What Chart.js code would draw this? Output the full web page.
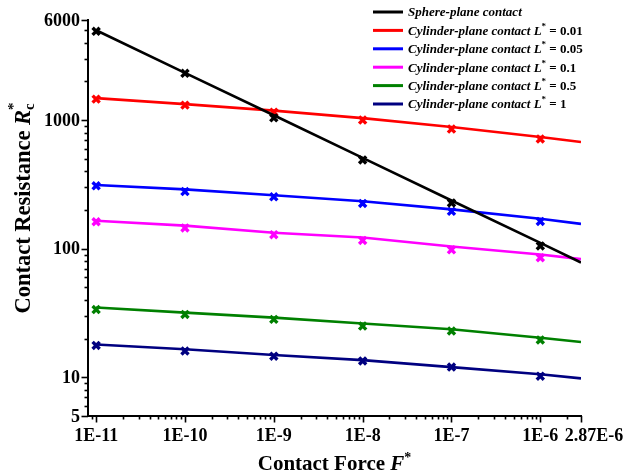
<!DOCTYPE html>
<html>
<head>
<meta charset="utf-8">
<script src="https://cdn.jsdelivr.net/npm/chart.js@4.4.1/dist/chart.umd.min.js"></script>
<style>
  html, body { margin: 0; padding: 0; background: #ffffff; }
  canvas { display: block; }
</style>
</head>
<body>
<canvas id="chart" width="625" height="476"></canvas>
<script>
// Dimensionless contact force at which each case was evaluated
const forceSamples = [1e-11, 1e-10, 1e-9, 1e-8, 1e-7, 1e-6];
// Force values where the fitted curves are traced (up to the axis end)
const fitForces = [1e-11, 1e-10, 1e-9, 1e-8, 1e-7, 1e-6, 2.87e-6];

// Axis ticks
const xTickValues = [1e-11, 1e-10, 1e-9, 1e-8, 1e-7, 1e-6, 2.87e-6];
const xTickLabels = ['1E-11', '1E-10', '1E-9', '1E-8', '1E-7', '1E-6', '2.87E-6'];
const yTickValues = [5, 10, 100, 1000, 6000];
const yTickLabels = ['5', '10', '100', '1000', '6000'];

// Series names and colours
const seriesNames = [
  'Sphere-plane contact',
  'Cylinder-plane contact L* = 0.01',
  'Cylinder-plane contact L* = 0.05',
  'Cylinder-plane contact L* = 0.1',
  'Cylinder-plane contact L* = 0.5',
  'Cylinder-plane contact L* = 1'
];
const seriesColors = ['#000000', '#ff0000', '#0000ff', '#ff00ff', '#008000', '#000080'];

// Computed contact resistance (markers)
const sphereMarks  = [4900, 2310, 1040, 490, 227, 105];
const cyl001Marks  = [1455, 1307, 1153, 1000, 851, 713];
const cyl005Marks  = [308, 278, 253, 225, 195, 163];
const cyl01Marks   = [162, 145, 128.5, 116, 98, 85];
const cyl05Marks   = [33.6, 30.8, 28.2, 25.0, 22.9, 19.5];
const cyl1Marks    = [17.7, 16.0, 14.6, 13.4, 12.0, 10.2];

// Fitted curves (lines)
const sphereFit  = [4990, 2330, 1090, 508, 237, 111, 78];
const cyl001Fit  = [1481, 1331, 1185, 1036, 883, 738, 675];
const cyl005Fit  = [313, 289, 260, 234, 202, 171, 156];
const cyl01Fit   = [165, 151, 133, 122, 104, 90, 83];
const cyl05Fit   = [34.9, 31.8, 29.1, 26.2, 23.6, 20.3, 18.8];
const cyl1Fit    = [18.0, 16.5, 14.9, 13.6, 12.0, 10.55, 9.8];

const markSets = [sphereMarks, cyl001Marks, cyl005Marks, cyl01Marks, cyl05Marks, cyl1Marks];
const fitSets  = [sphereFit, cyl001Fit, cyl005Fit, cyl01Fit, cyl05Fit, cyl1Fit];

const X_MIN = 8.1e-12, X_MAX = 2.87e-6, Y_MIN = 5, Y_MAX = 6000;
const SERIF = '"Liberation Serif", "Times New Roman", serif';

const pairs = (xs, ys) => ys.map((y, i) => ({ x: xs[i], y }));

const datasets = [];
seriesNames.forEach((name, i) => {
  datasets.push({
    label: name,
    data: pairs(fitForces, fitSets[i]),
    showLine: true,
    borderColor: seriesColors[i],
    backgroundColor: seriesColors[i],
    borderWidth: 2.6,
    pointRadius: 0,
    tension: 0
  });
  datasets.push({
    label: name + ' (computed)',
    data: pairs(forceSamples, markSets[i]),
    showLine: false,
    borderColor: seriesColors[i],
    backgroundColor: seriesColors[i],
    pointStyle: 'crossRot',
    pointRadius: 5,
    pointBorderWidth: 3.4,
    pointHoverRadius: 5
  });
});

// Minor log ticks (2..9 × each decade) strictly inside a range
function minorTicks(lo, hi) {
  const out = [];
  for (let e = Math.floor(Math.log10(lo)); e <= Math.ceil(Math.log10(hi)); e++) {
    for (let m = 2; m <= 9; m++) {
      const v = m * Math.pow(10, e);
      if (v > lo * 1.0001 && v < hi * 0.9999) out.push(v);
    }
  }
  return out;
}

// Draws text made of styled runs; each run: {t, font, dy, stack}
function drawRuns(ctx, x, y, runs) {
  let cx = x, lastW = 0;
  runs.forEach(r => {
    ctx.font = r.font;
    const w = ctx.measureText(r.t).width;
    const px = r.stack ? cx - lastW : cx;
    ctx.fillText(r.t, px, y + (r.dy || 0));
    if (r.stack) {
      cx = Math.max(cx, px + w);
    } else {
      cx += w;
      lastW = w;
    }
  });
  return cx - x;
}
function measureRuns(ctx, runs) {
  let total = 0, lastW = 0;
  runs.forEach(r => {
    ctx.font = r.font;
    const w = ctx.measureText(r.t).width;
    if (r.stack) { total = Math.max(total, total - lastW + w); }
    else { total += w; lastW = w; }
  });
  return total;
}

const axisDecor = {
  id: 'axisDecor',
  afterDraw(chart) {
    const ctx = chart.ctx;
    const xs = chart.scales.x, ys = chart.scales.y, a = chart.chartArea;
    ctx.save();
    ctx.strokeStyle = '#000';
    ctx.fillStyle = '#000';
    ctx.lineWidth = 1.6;

    // x ticks (outward)
    const xTick = (v, len) => {
      const p = Math.round(xs.getPixelForValue(v)) + 0.5;
      ctx.beginPath(); ctx.moveTo(p, a.bottom); ctx.lineTo(p, a.bottom + len); ctx.stroke();
    };
    minorTicks(X_MIN, X_MAX).forEach(v => xTick(v, 3.5));
    xTickValues.forEach(v => xTick(v, 6.5));

    // y ticks (outward)
    const yTick = (v, len) => {
      const p = Math.round(ys.getPixelForValue(v)) + 0.5;
      ctx.beginPath(); ctx.moveTo(a.left, p); ctx.lineTo(a.left - len, p); ctx.stroke();
    };
    minorTicks(Y_MIN, Y_MAX).forEach(v => yTick(v, 3.5));
    yTickValues.forEach(v => yTick(v, 6.5));

    // tick labels
    ctx.font = 'bold 18px ' + SERIF;
    ctx.textAlign = 'center';
    ctx.textBaseline = 'top';
    xTickValues.forEach((v, i) => {
      let px = xs.getPixelForValue(v);
      if (v === X_MAX) px += 13;
      ctx.fillText(xTickLabels[i], px, a.bottom + 11);
    });
    ctx.textAlign = 'right';
    ctx.textBaseline = 'middle';
    yTickValues.forEach((v, i) => {
      ctx.fillText(yTickLabels[i], a.left - 8, ys.getPixelForValue(v) + 1);
    });

    // x axis title
    ctx.textAlign = 'left';
    ctx.textBaseline = 'alphabetic';
    const xTitle = [
      { t: 'Contact Force ', font: 'bold 21px ' + SERIF },
      { t: 'F', font: 'bold italic 21px ' + SERIF },
      { t: '*', font: 'bold 14px ' + SERIF, dy: -8 }
    ];
    const xw = measureRuns(ctx, xTitle);
    drawRuns(ctx, (a.left + a.right) / 2 - xw / 2, 470, xTitle);

    // y axis title (rotated)
    const yTitle = [
      { t: 'Contact Resistance ', font: 'bold 22.5px ' + SERIF },
      { t: 'R', font: 'bold italic 22.5px ' + SERIF },
      { t: 'c', font: 'bold 15px ' + SERIF, dy: 4 },
      { t: '*', font: 'bold 15px ' + SERIF, dy: -12, stack: true }
    ];
    const yw = measureRuns(ctx, yTitle);
    ctx.save();
    ctx.translate(30, 208);
    ctx.rotate(-Math.PI / 2);
    drawRuns(ctx, -yw / 2, 0, yTitle);
    ctx.restore();

    // legend
    const lx0 = 373, lx1 = 403, tx = 408, ly0 = 12, lstep = 18.4;
    seriesNames.forEach((name, i) => {
      const y = ly0 + i * lstep;
      ctx.strokeStyle = seriesColors[i];
      ctx.lineWidth = 3;
      ctx.beginPath(); ctx.moveTo(lx0, y); ctx.lineTo(lx1, y); ctx.stroke();
      ctx.fillStyle = '#000';
      ctx.textBaseline = 'middle';
      const star = name.indexOf('*');
      let runs;
      if (star < 0) {
        runs = [{ t: name, font: 'bold italic 13px ' + SERIF }];
      } else {
        runs = [
          { t: name.slice(0, star), font: 'bold italic 13px ' + SERIF },
          { t: '*', font: 'bold 9px ' + SERIF, dy: -5 },
          { t: name.slice(star + 1), font: 'bold 13px ' + SERIF }
        ];
      }
      drawRuns(ctx, tx, y + 1, runs);
    });
    ctx.restore();
  }
};

new Chart(document.getElementById('chart'), {
  type: 'scatter',
  data: { datasets },
  options: {
    responsive: false,
    animation: false,
    devicePixelRatio: 1,
    layout: { padding: { left: 88, right: 44, top: 20, bottom: 60 } },
    plugins: { legend: { display: false }, tooltip: { enabled: false }, title: { display: false } },
    scales: {
      x: {
        type: 'logarithmic',
        position: 'bottom',
        min: X_MIN,
        max: X_MAX,
        ticks: { display: false },
        grid: { display: true, drawOnChartArea: false, drawTicks: false },
        border: { display: true, color: '#000', width: 2 }
      },
      y: {
        type: 'logarithmic',
        position: 'left',
        min: Y_MIN,
        max: Y_MAX,
        ticks: { display: false },
        grid: { display: true, drawOnChartArea: false, drawTicks: false },
        border: { display: true, color: '#000', width: 2 }
      }
    }
  },
  plugins: [axisDecor]
});
</script>
</body>
</html>
